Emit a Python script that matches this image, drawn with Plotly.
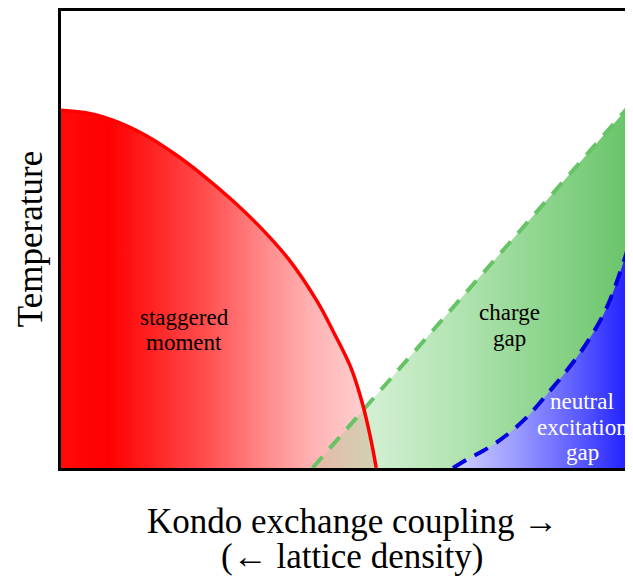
import plotly.graph_objects as go

# Phase-boundary curves (axis units 0..1)
red_x = [0.0, 0.05, 0.10, 0.15, 0.20, 0.25, 0.30, 0.35, 0.40, 0.45, 0.48, 0.51, 0.53, 0.545, 0.554]
red_y = [0.783, 0.776, 0.757, 0.727, 0.687, 0.640, 0.587, 0.527, 0.457, 0.365, 0.295, 0.218, 0.140, 0.060, 0.0]

green_x = [0.442, 1.0]
green_y = [0.0, 0.794]

blue_x = [0.689, 0.715, 0.750, 0.785, 0.820, 0.855, 0.890, 0.925, 0.960, 1.0]
blue_y = [0.0, 0.0195, 0.0434, 0.0738, 0.1128, 0.1627, 0.2148, 0.2755, 0.3536, 0.4946]

labels = [
    ("staggered", 0.217, 0.330, "black"),
    ("moment", 0.217, 0.275, "black"),
    ("charge", 0.788, 0.341, "black"),
    ("gap", 0.788, 0.284, "black"),
    ("neutral", 0.916, 0.146, "white"),
    ("excitation", 0.916, 0.089, "white"),
    ("gap", 0.916, 0.033, "white"),
]

SERIF = "Liberation Serif, Times New Roman, serif"

fig = go.Figure()

# red region
fig.add_trace(go.Scatter(
    x=red_x, y=red_y, mode="lines", line=dict(width=0, shape="spline"),
    fill="tozeroy",
    fillgradient=dict(type="horizontal", start=0.0, stop=red_x[-1],
                      colorscale=[[0, "#ff0a0a"], [0.15, "#ff0000"], [0.45, "#ff4c4c"],
                                  [0.65, "#ff8c8c"], [0.8, "#ffb4b4"], [1.0, "#ffd6d6"]]),
    hoverinfo="skip", showlegend=False))

# green region (triangle under the green line; blue drawn over it)
fig.add_trace(go.Scatter(
    x=[green_x[0], green_x[1], green_x[1], green_x[0]],
    y=[green_y[0], green_y[1], 0.0, 0.0],
    mode="lines", line=dict(width=0), fill="toself",
    fillgradient=dict(type="horizontal", start=green_x[0], stop=green_x[1],
                      colorscale=[[0, "rgba(100,200,100,0.15)"], [0.45, "rgba(100,200,100,0.5)"],
                                  [1.0, "rgba(95,192,95,0.95)"]]),
    hoverinfo="skip", showlegend=False))

# blue region
fig.add_trace(go.Scatter(
    x=blue_x, y=blue_y, mode="lines", line=dict(width=0, shape="spline"),
    fill="tozeroy",
    fillgradient=dict(type="horizontal", start=blue_x[0], stop=blue_x[-1],
                      colorscale=[[0, "#d0d0ff"], [0.35, "#9a9aff"], [0.7, "#5a5aff"],
                                  [1.0, "#1a1aff"]]),
    hoverinfo="skip", showlegend=False))

# boundary lines
fig.add_trace(go.Scatter(
    x=green_x, y=green_y, mode="lines",
    line=dict(color="rgb(102,196,102)", width=4, dash="15px,11px"),
    hoverinfo="skip", showlegend=False))
fig.add_trace(go.Scatter(
    x=blue_x, y=blue_y, mode="lines",
    line=dict(color="rgb(0,0,225)", width=4, dash="15px,10px", shape="spline"),
    hoverinfo="skip", showlegend=False))
fig.add_trace(go.Scatter(
    x=red_x, y=red_y, mode="lines",
    line=dict(color="#ff0000", width=3.5, shape="spline"),
    hoverinfo="skip", showlegend=False))

for txt, x, y, col in labels:
    fig.add_annotation(x=x, y=y, xref="x", yref="y", text=txt, showarrow=False,
                       xanchor="center", yanchor="middle",
                       font=dict(family=SERIF, size=23, color=col))

# axis titles (plot area spans page px 61..633 horizontally, 9..468 vertically)
def px(xa):
    return (xa - 61) / 572

def py(ya):
    return (468 - ya) / 459

fig.add_annotation(x=px(354), y=py(522), xref="paper", yref="paper",
                   text="Kondo exchange coupling →", showarrow=False,
                   xanchor="center", yanchor="middle",
                   font=dict(family=SERIF, size=35, color="black"))
fig.add_annotation(x=px(354), y=py(557), xref="paper", yref="paper",
                   text="(← lattice density)", showarrow=False,
                   xanchor="center", yanchor="middle",
                   font=dict(family=SERIF, size=35, color="black"))
fig.add_annotation(x=px(30), y=py(238), xref="paper", yref="paper",
                   text="Temperature", showarrow=False, textangle=-90,
                   xanchor="center", yanchor="middle",
                   font=dict(family=SERIF, size=35, color="black"))

axis_common = dict(showgrid=False, zeroline=False, showticklabels=False, ticks="",
                   showline=True, mirror=True, linecolor="black", linewidth=2.5)
fig.update_xaxes(range=[0, 1], **axis_common)
fig.update_yaxes(range=[0, 1], **axis_common)

# page body has an 8px default margin, so the figure is sized/offset to compensate
fig.update_layout(
    width=625, height=570,
    margin=dict(l=53, r=0, t=1, b=110),
    paper_bgcolor="white", plot_bgcolor="white",
    showlegend=False,
)

fig.write_html("out.html")
